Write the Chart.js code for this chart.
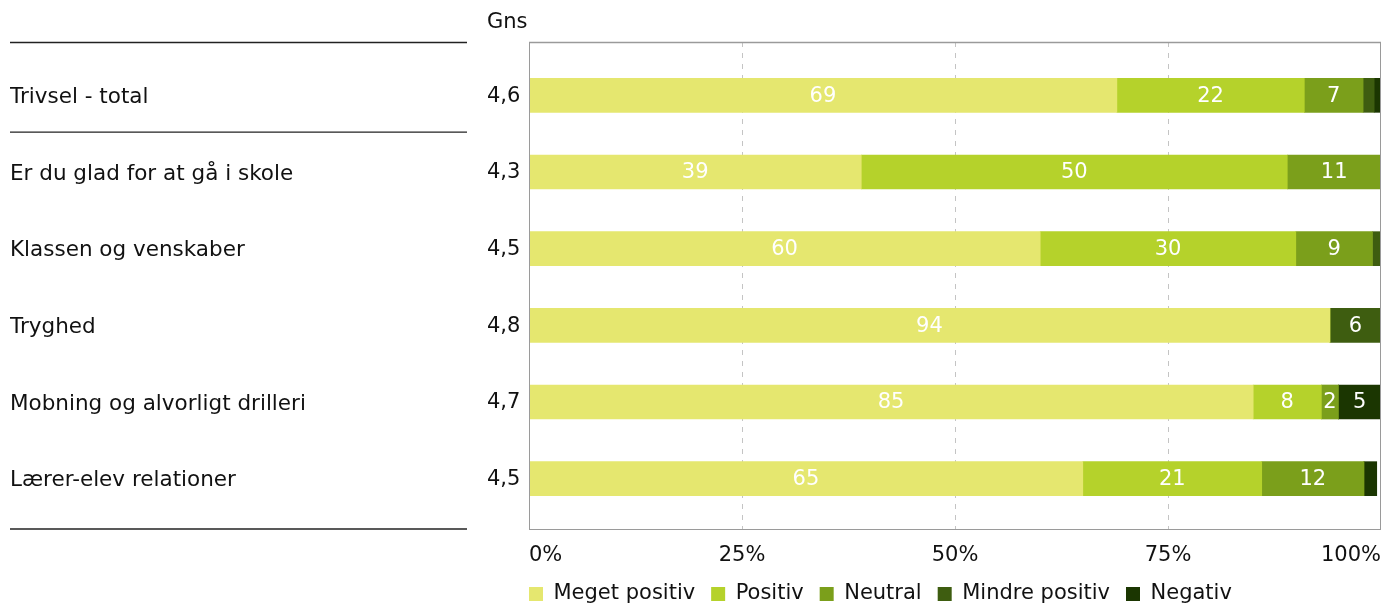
<!DOCTYPE html>
<html>
<head>
<meta charset="utf-8">
<script src="https://cdn.jsdelivr.net/npm/chart.js@4"></script>
<style>
  html, body { margin: 0; padding: 0; background: #fff; }
  #wrap { width: 1385px; height: 605px; }
</style>
</head>
<body>
<div id="wrap"><canvas id="trivselChart" width="1385" height="605"></canvas></div>
<script>
const categories = ['Trivsel - total', 'Er du glad for at gå i skole', 'Klassen og venskaber', 'Tryghed', 'Mobning og alvorligt drilleri', 'Lærer-elev relationer'];
const averages = ['4,6', '4,3', '4,5', '4,8', '4,7', '4,5'];
const megetPositiv = [69, 39, 60, 94, 85, 65];
const positiv = [22, 50, 30, 0, 8, 21];
const neutral = [6.9, 11, 9, 0, 2, 12];
const mindrePositiv = [1.3, 0, 1.1, 6, 0, 0];
const negativ = [1.3, 0, 0, 0, 5, 1.5];
const xTicks = [0, 25, 50, 75, 100];

const FONT = '"DejaVu Sans", Verdana, sans-serif';
const FS = 21;

// draws left column text, separators, plot frame and dashed grid
const framePlugin = {
	id: 'frame',
	afterLayout(chart) {
		// move legend so it starts at the plot's left edge and sits near the bottom
		const lg = chart.legend;
		const pad = lg.options.labels.padding;
		const shift = chart.chartArea.left - pad - lg.left;
		lg.left += shift; lg.right += shift;
		lg.top = 594 - pad - FS / 2;
		lg.bottom = 605;
		lg.height = lg.bottom - lg.top;
	},
	beforeDatasetsDraw(chart) {
		const {ctx, chartArea, scales} = chart;
		const top = chartArea.top - 15, bottom = chartArea.bottom + 12;
		ctx.save();
		ctx.strokeStyle = '#c4c4c4';
		ctx.lineWidth = 1;
		ctx.setLineDash([5, 6]);
		[25, 50, 75].forEach(v => {
			const x = Math.round(scales.x.getPixelForValue(v)) + 0.5;
			ctx.beginPath(); ctx.moveTo(x, top); ctx.lineTo(x, bottom); ctx.stroke();
		});
		ctx.restore();
	},
	afterDatasetsDraw(chart) {
		const {ctx, chartArea, scales} = chart;
		const top = chartArea.top - 15, bottom = chartArea.bottom + 12;
		ctx.save();
		ctx.strokeStyle = '#9a9a9a';
		ctx.lineWidth = 1;
		ctx.strokeRect(chartArea.left + 0.5, top + 0.5, chartArea.right - chartArea.left - 1, bottom - top);
		ctx.beginPath();
		ctx.lineWidth = 1.5;
		ctx.moveTo(chartArea.left, top + 0.5); ctx.lineTo(chartArea.right, top + 0.5);
		ctx.stroke();

		// separators in the label column
		ctx.strokeStyle = '#222';
		ctx.lineWidth = 1.3;
		const y0 = scales.y.getPixelForValue(0), y1 = scales.y.getPixelForValue(1);
		[top + 0.5, (y0 + y1) / 2 - 1.5, bottom].forEach(y => {
			ctx.beginPath(); ctx.moveTo(10, y); ctx.lineTo(467, y); ctx.stroke();
		});

		ctx.fillStyle = '#111';
		ctx.font = FS + 'px ' + FONT;
		ctx.textAlign = 'left';
		ctx.textBaseline = 'middle';
		ctx.fillText('Gns', 487, 23);
		averages.forEach((a, i) => ctx.fillText(a, 487, scales.y.getPixelForValue(i) + 1));

		// value labels inside bars
		ctx.fillStyle = '#fff';
		ctx.textAlign = 'center';
		chart.data.datasets.forEach((ds, di) => {
			const meta = chart.getDatasetMeta(di);
			meta.data.forEach((bar, i) => {
				const v = ds.data[i];
				if (v < 1.8) return;
				const cx = (bar.x + bar.base) / 2;
				ctx.fillText(String(Math.round(v)), cx, bar.y + 1);
			});
		});
		ctx.restore();
	}
};

const ctx = document.getElementById('trivselChart');
new Chart(ctx, {
	type: 'bar',
	data: {
		labels: categories,
		datasets: [
			{ label: 'Meget positiv', data: megetPositiv, backgroundColor: '#e5e76f' },
			{ label: 'Positiv', data: positiv, backgroundColor: '#b5d22b' },
			{ label: 'Neutral', data: neutral, backgroundColor: '#7b9f1b' },
			{ label: 'Mindre positiv', data: mindrePositiv, backgroundColor: '#3e5d10' },
			{ label: 'Negativ', data: negativ, backgroundColor: '#1b3601' }
		]
	},
	options: {
		indexAxis: 'y',
		responsive: false,
		animation: false,
		layout: { padding: { left: 10, right: 4, top: 57, bottom: 0 } },
		datasets: { bar: { barThickness: 34 } },
		plugins: {
			legend: {
				position: 'bottom',
				align: 'start',
				maxHeight: 30,
				labels: {
					boxWidth: 14,
					boxHeight: 14,
					padding: 16,
					color: '#111',
					font: { family: FONT, size: FS }
				}
			},
			tooltip: { enabled: false }
		},
		scales: {
			x: {
				stacked: true,
				min: 0,
				max: 100,
				afterBuildTicks: s => { s.ticks = xTicks.map(v => ({ value: v })); },
				afterFit: s => { s.height = 58; s.paddingLeft = 0; s.paddingRight = 0; },
				grid: { display: false, drawTicks: false },
				border: { display: false },
				ticks: {
					align: 'inner',
					padding: 26,
					color: '#111',
					font: { family: FONT, size: FS },
					callback: v => v + '%'
				}
			},
			y: {
				stacked: true,
				afterFit: s => { s.width = 519; },
				grid: { display: false, drawTicks: false },
				border: { display: false },
				ticks: {
					crossAlign: 'far',
					labelOffset: 2,
					color: '#111',
					font: { family: FONT, size: 21.5 }
				}
			}
		}
	},
	plugins: [framePlugin]
});
</script>
</body>
</html>
